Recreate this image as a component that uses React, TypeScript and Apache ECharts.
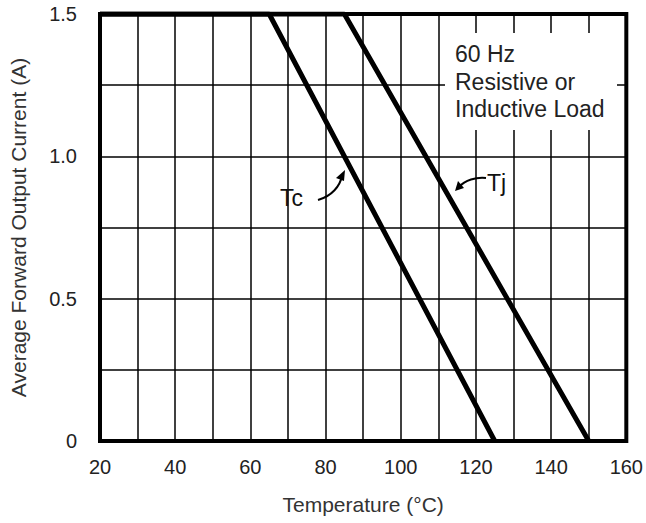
import React, { useEffect, useRef } from "react";
import * as echarts from "echarts";

const tcTemps = [20, 65, 125];
const tcCurrent = [1.5, 1.5, 0];
const tjTemps = [20, 85, 150];
const tjCurrent = [1.5, 1.5, 0];
const xLabels = [20, 40, 60, 80, 100, 120, 140, 160];
const yLabels: Record<string, string> = { "0": "0", "0.5": "0.5", "1": "1.0", "1.5": "1.5" };
const noteLines = ["60 Hz", "Resistive or", "Inductive Load"];

const FONT = "Liberation Sans, Arial, sans-serif";

export default function App() {
  const ref = useRef<HTMLDivElement>(null);
  useEffect(() => {
    if (!ref.current) return;
    const chart = echarts.init(ref.current, undefined, { renderer: "svg" });
    const tc = tcTemps.map((t, i) => [t, tcCurrent[i]]);
    const tj = tjTemps.map((t, i) => [t, tjCurrent[i]]);
    chart.setOption({
      animation: false,
      backgroundColor: "#fff",
      grid: {
        left: 97,
        right: 16,
        top: 14,
        bottom: 82,
        show: true,
        borderColor: "#000",
        borderWidth: 4,
        z: 3,
      },
      xAxis: {
        type: "value",
        min: 20,
        max: 160,
        interval: 10,
        name: "Temperature (°C)",
        nameLocation: "middle",
        nameGap: 53,
        nameTextStyle: { fontFamily: FONT, fontSize: 21, color: "#333" },
        axisLine: { show: false },
        axisTick: { show: false },
        axisLabel: {
          margin: 16,
          fontFamily: FONT,
          fontSize: 20,
          color: "#222",
          formatter: (v: number) => (xLabels.indexOf(v) >= 0 ? String(v) : ""),
        },
        splitLine: { show: true, lineStyle: { color: "#000", width: 1.5 } },
      },
      yAxis: {
        type: "value",
        min: 0,
        max: 1.5,
        interval: 0.25,
        name: "Average Forward Output Current (A)",
        nameLocation: "middle",
        nameGap: 71,
        nameTextStyle: { fontFamily: FONT, fontSize: 21, color: "#333" },
        axisLine: { show: false },
        axisTick: { show: false },
        axisLabel: {
          margin: 23,
          fontFamily: FONT,
          fontSize: 20,
          color: "#222",
          formatter: (v: number) => yLabels[String(v)] ?? "",
        },
        splitLine: { show: true, lineStyle: { color: "#000", width: 1.5 } },
      },
      series: [
        {
          name: "Tc",
          type: "line",
          data: tc,
          symbol: "none",
          lineStyle: { color: "#000", width: 5 },
          z: 4,
        },
        {
          name: "Tj",
          type: "line",
          data: tj,
          symbol: "none",
          lineStyle: { color: "#000", width: 5 },
          z: 4,
        },
      ],
      graphic: [
        {
          type: "rect",
          shape: { x: 445, y: 33, width: 172, height: 97 },
          style: { fill: "#fff" },
          z: 10,
        },
        ...noteLines.map((t, i) => ({
          type: "text",
          x: 455,
          y: 54 + i * 27.5,
          style: {
            text: t,
            fontFamily: FONT,
            fontSize: 23,
            fill: "#222",
            verticalAlign: "middle",
          },
          z: 11,
        })),
        {
          type: "text",
          x: 280,
          y: 198,
          style: { text: "Tc", fontFamily: FONT, fontSize: 23, fill: "#111", verticalAlign: "middle" },
          z: 11,
        },
        {
          type: "text",
          x: 487,
          y: 183,
          style: { text: "Tj", fontFamily: FONT, fontSize: 23, fill: "#111", verticalAlign: "middle" },
          z: 11,
        },
        {
          type: "bezierCurve",
          shape: { x1: 318, y1: 200, x2: 342, y2: 176, cpx1: 332, cpy1: 196, cpx2: 340, cpy2: 186 },
          style: { stroke: "#000", lineWidth: 2, fill: "none" },
          z: 11,
        },
        {
          type: "polygon",
          shape: { points: [[345, 170], [336, 178], [344, 181]] },
          style: { fill: "#000" },
          z: 11,
        },
        {
          type: "bezierCurve",
          shape: { x1: 486, y1: 178, x2: 459, y2: 187, cpx1: 476, cpy1: 177, cpx2: 465, cpy2: 180 },
          style: { stroke: "#000", lineWidth: 2, fill: "none" },
          z: 11,
        },
        {
          type: "polygon",
          shape: { points: [[455, 191], [458, 181], [464, 188]] },
          style: { fill: "#000" },
          z: 11,
        },
      ],
    });
    return () => chart.dispose();
  }, []);
  return <div ref={ref} style={{ width: 646, height: 523, position: "absolute", left: 0, top: 0 }} />;
}
